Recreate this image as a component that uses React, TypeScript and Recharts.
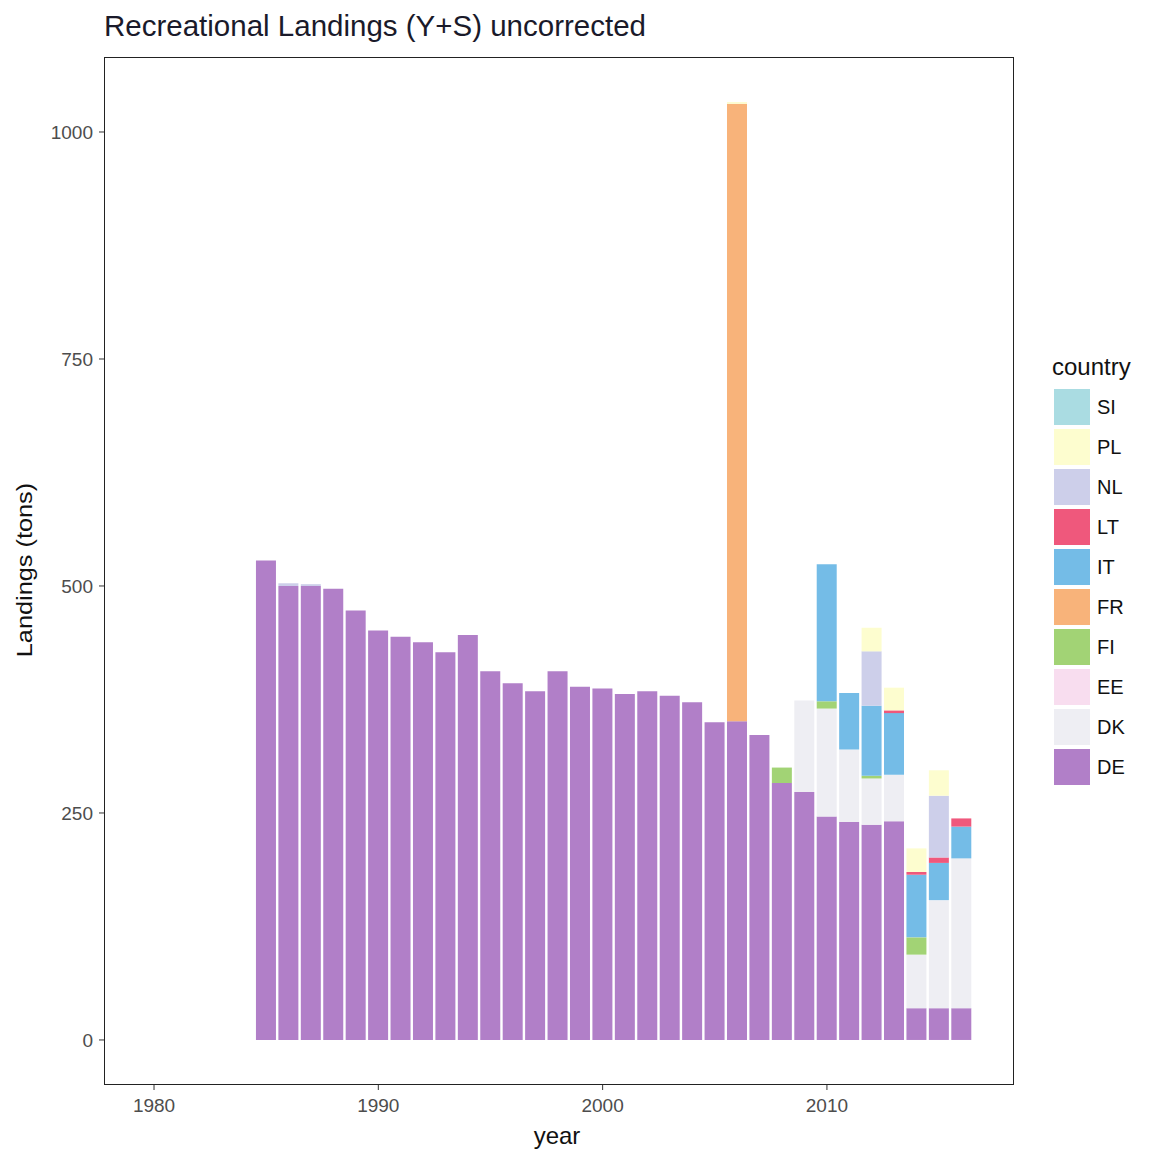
import { BarChart, Bar, XAxis, YAxis } from "recharts";

const years = [1985, 1986, 1987, 1988, 1989, 1990, 1991, 1992, 1993, 1994, 1995, 1996, 1997, 1998, 1999, 2000,
  2001, 2002, 2003, 2004, 2005, 2006, 2007, 2008, 2009, 2010, 2011, 2012, 2013, 2014, 2015, 2016];

const DE = [528, 500, 500, 497, 473, 451, 444, 438, 427, 446, 406, 393, 384, 406, 389, 387,
  381, 384, 379, 372, 350, 351, 336, 283, 273, 246, 240, 237, 241, 35, 35, 35];
const DK = [0, 0, 0, 0, 0, 0, 0, 0, 0, 0, 0, 0, 0, 0, 0, 0,
  0, 0, 0, 0, 0, 0, 0, 0, 101, 119, 80, 51, 51, 59, 119, 165];
const EE = years.map(() => 0);
const FI = [0, 0, 0, 0, 0, 0, 0, 0, 0, 0, 0, 0, 0, 0, 0, 0,
  0, 0, 0, 0, 0, 0, 0, 17, 0, 8, 0, 3, 0, 19, 0, 0];
const FR = [0, 0, 0, 0, 0, 0, 0, 0, 0, 0, 0, 0, 0, 0, 0, 0,
  0, 0, 0, 0, 0, 680, 0, 0, 0, 0, 0, 0, 0, 0, 0, 0];
const IT = [0, 0, 0, 0, 0, 0, 0, 0, 0, 0, 0, 0, 0, 0, 0, 0,
  0, 0, 0, 0, 0, 0, 0, 0, 0, 151, 62, 77, 68, 69, 41, 35];
const LT = [0, 0, 0, 0, 0, 0, 0, 0, 0, 0, 0, 0, 0, 0, 0, 0,
  0, 0, 0, 0, 0, 0, 0, 0, 0, 0, 0, 0, 3, 3, 6, 9];
const NL = [0, 3, 2, 0, 0, 0, 0, 0, 0, 0, 0, 0, 0, 0, 0, 0,
  0, 0, 0, 0, 0, 0, 0, 0, 0, 0, 0, 60, 0, 0, 68, 0];
const PL = [0, 0, 0, 0, 0, 0, 0, 0, 0, 0, 0, 0, 0, 0, 0, 0,
  0, 0, 0, 0, 0, 2, 0, 0, 0, 0, 0, 26, 25, 26, 28, 0];
const SI = years.map(() => 0);

// bottom to top
const countries = ["DE", "DK", "EE", "FI", "FR", "IT", "LT", "NL", "PL", "SI"];
const seriesValues: Record<string, number[]> = { DE, DK, EE, FI, FR, IT, LT, NL, PL, SI };
const colors: Record<string, string> = {
  SI: "#AADCE2",
  PL: "#FDFDCF",
  NL: "#CDCFEA",
  LT: "#EF587C",
  IT: "#74BCE7",
  FR: "#F8B37A",
  FI: "#A2D375",
  EE: "#F8DDEF",
  DK: "#EEEEF3",
  DE: "#B17FC8",
};

const yTicks = [0, 250, 500, 750, 1000];
const xTicks = [1980, 1990, 2000, 2010];

const data = years.map((year, i) => {
  const row: Record<string, number> = { year };
  countries.forEach((c) => (row[c] = seriesValues[c][i]));
  return row;
});

const font = "'Liberation Sans', Arial, sans-serif";

export default function App() {
  return (
    <div style={{ position: "absolute", left: 0, top: 0, width: 1153, height: 1156, background: "#fff", fontFamily: font }}>
      <div style={{ position: "absolute", left: 104, top: 9, fontSize: 29.5, color: "#1a1a2a", whiteSpace: "nowrap" }}>
        Recreational Landings (Y+S) uncorrected
      </div>

      <BarChart width={1153} height={1156} data={data} margin={{ top: 57, right: 139, left: 44, bottom: 31 }}>
        <XAxis
          dataKey="year"
          type="number"
          domain={[1977.77, 2018.34]}
          ticks={xTicks}
          allowDataOverflow
          height={40}
          tickSize={5}
          tickMargin={9}
          axisLine={false}
          tickLine={{ stroke: "#333" }}
          tick={{ fill: "#4D4D4D", fontSize: 19, fontFamily: font }}
        />
        <YAxis
          type="number"
          domain={[-49.6, 1082.6]}
          ticks={yTicks}
          allowDataOverflow
          width={60}
          tickSize={5}
          tickMargin={6}
          axisLine={false}
          tickLine={{ stroke: "#333" }}
          tick={{ fill: "#4D4D4D", fontSize: 19, fontFamily: font }}
        />
        {countries.map((c) => (
          <Bar key={c} dataKey={c} stackId="a" fill={colors[c]} barSize={20} isAnimationActive={false} />
        ))}
      </BarChart>

      {/* panel border */}
      <div style={{ position: "absolute", left: 104, top: 57, width: 910, height: 1028, border: "1.5px solid #222", boxSizing: "border-box", pointerEvents: "none" }} />

      <div style={{ position: "absolute", left: 557, top: 1122, transform: "translateX(-50%)", fontSize: 24, color: "#111" }}>year</div>
      <div style={{ position: "absolute", left: 25, top: 570, transform: "translate(-50%, -50%) rotate(-90deg) scaleX(1.15)", fontSize: 22, color: "#111", whiteSpace: "nowrap" }}>
        Landings (tons)
      </div>

      {/* Legend */}
      <div style={{ position: "absolute", left: 1052, top: 353 }}>
        <div style={{ fontSize: 24, color: "#111", marginBottom: 6 }}>country</div>
        {[...countries].reverse().map((c) => (
          <div key={c} style={{ display: "flex", alignItems: "center", height: 40 }}>
            <div style={{ width: 36, height: 36, background: colors[c], marginLeft: 2 }} />
            <span style={{ fontSize: 20, color: "#111", marginLeft: 7 }}>{c}</span>
          </div>
        ))}
      </div>
    </div>
  );
}
